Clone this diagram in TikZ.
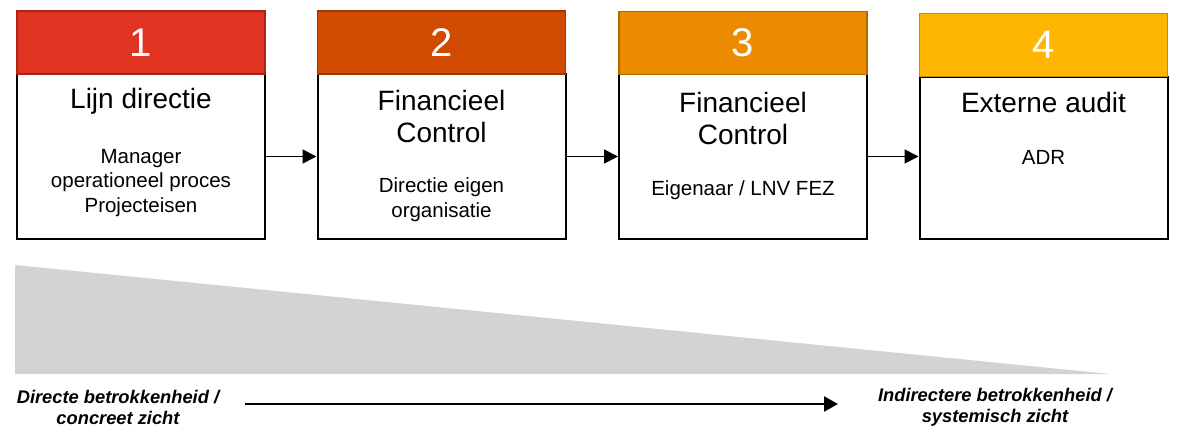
\documentclass[tikz,border=0pt]{standalone}
\usepackage{fontspec}
\setmainfont{Liberation Sans}
\usetikzlibrary{arrows.meta}
\definecolor{hA}{HTML}{E03321}
\definecolor{hAd}{HTML}{A82616}
\definecolor{hB}{HTML}{D04A02}
\definecolor{hBd}{HTML}{9C3702}
\definecolor{hC}{HTML}{EB8C00}
\definecolor{hCd}{HTML}{B06900}
\definecolor{hD}{HTML}{FFB600}
\definecolor{hDd}{HTML}{C48C00}
\definecolor{wedge}{HTML}{D3D3D3}
\begin{document}
\begin{tikzpicture}[x=1pt,y=-1pt,
  hdr/.style={draw, line width=1.5pt, minimum width=248pt, minimum height=63pt, inner sep=0pt,
    text=white, font=\fontsize{40}{44}\selectfont},
  bodybox/.style={draw=black, line width=2pt, fill=white, minimum width=248pt, minimum height=165pt, inner sep=0pt},
  ttl/.style={align=center, inner sep=0pt, font=\fontsize{28}{32}\selectfont},
  sub/.style={align=center, inner sep=0pt, font=\fontsize{20.5}{24.5}\selectfont},
  flow/.style={line width=1.8pt, -{Triangle[length=14pt,width=14pt]}},
  note/.style={align=center, inner sep=0pt, font=\bfseries\itshape\fontsize{18.3}{21}\selectfont}
]
\useasboundingbox (0,0) rectangle (1180,428);
% wedge
\fill[wedge] (15,265) -- (1110,374) -- (15,374) -- cycle;
% boxes
\node[bodybox] (b1) at (141,156.5) {};
\node[hdr, fill=hA, draw=hAd] (h1) at (141,42.5) {1};
\node[bodybox] (b2) at (441.5,156.5) {};
\node[hdr, fill=hB, draw=hBd] (h2) at (441.5,42.5) {2};
\node[bodybox] (b3) at (743,156.5) {};
\node[hdr, fill=hC, draw=hCd] (h3) at (743,43) {3};
\node[bodybox, minimum height=162pt] (b4) at (1043.5,158) {};
\node[hdr, fill=hD, draw=hDd] (h4) at (1043.5,45) {4};
% texts
\node[ttl] (t1) at (141,101) {Lijn directie};
\node[sub] (s1) at (141,182.7) {Manager\\operationeel proces\\Projecteisen};
\node[ttl] (t2) at (441.5,116) {Financieel\\Control};
\node[sub] (s2) at (441.5,199.5) {Directie eigen\\organisatie};
\node[ttl] (t3) at (743,118.5) {Financieel\\Control};
\node[sub] (s3) at (743,190) {Eigenaar / LNV FEZ};
\node[ttl] (t4) at (1043.5,102) {Externe audit};
\node[sub] (s4) at (1043.5,157) {ADR};
% connectors
\draw[flow] (b1.east) -- (b2.west);
\draw[flow] (b2.east) -- (b3.west);
\draw[flow] (b3.east |- b2.east) -- (b4.west |- b2.east);
% bottom
\node[note] (l) at (118,407.5) {Directe betrokkenheid /\\concreet zicht};
\node[note] (r) at (995,407.5) {Indirectere betrokkenheid /\\systemisch zicht};
\coordinate (as) at (245,404);
\coordinate (ae) at (838,404);
\draw[line width=2.5pt, -{Triangle[length=14pt,width=15pt]}] (as) -- (ae);
\end{tikzpicture}
\end{document}
